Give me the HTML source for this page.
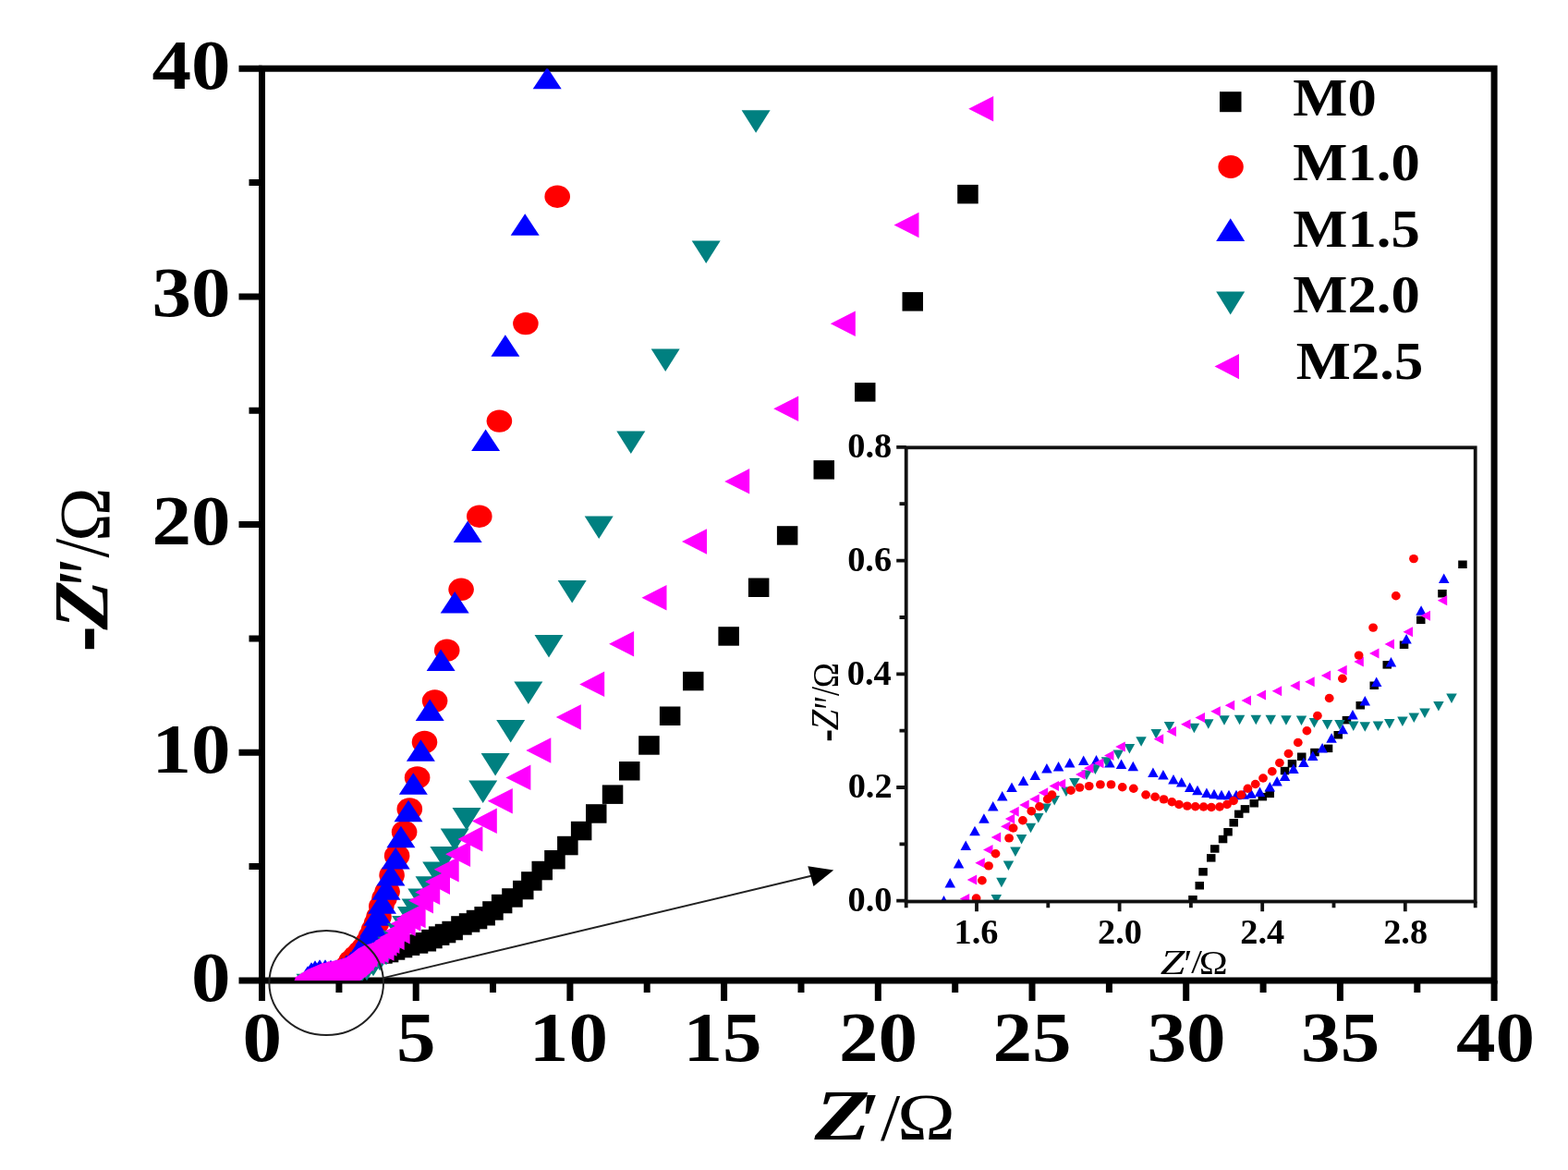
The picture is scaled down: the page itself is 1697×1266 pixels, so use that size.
<!DOCTYPE html>
<html><head><meta charset="utf-8"><title>Nyquist plot</title>
<style>html,body{margin:0;padding:0;background:#fff;overflow:hidden}svg{display:block}</style>
</head><body>
<svg width="1697" height="1266" viewBox="0 0 1697 1266">
<rect width="1697" height="1266" fill="#fff"/>
<rect x="283.5" y="74.19999999999993" width="1333.6" height="986.8" fill="none" stroke="#000" stroke-width="7"/>
<path d="M258.5 1061.0H283.5M269.5 937.6H283.5M258.5 814.3H283.5M269.5 691.0H283.5M258.5 567.6H283.5M269.5 444.2H283.5M258.5 320.9H283.5M269.5 197.5H283.5M258.5 74.2H283.5M283.5 1061.0V1083M366.9 1061.0V1074M450.2 1061.0V1083M533.5 1061.0V1074M616.9 1061.0V1083M700.2 1061.0V1074M783.6 1061.0V1083M867.0 1061.0V1074M950.3 1061.0V1083M1033.7 1061.0V1074M1117.0 1061.0V1083M1200.4 1061.0V1074M1283.7 1061.0V1083M1367.1 1061.0V1074M1450.4 1061.0V1083M1533.8 1061.0V1074M1617.1 1061.0V1083" stroke="#000" stroke-width="7" fill="none"/>
<clipPath id="pc"><rect x="283.5" y="74.19999999999993" width="1333.6" height="986.8"/></clipPath>
<g clip-path="url(#pc)">
<g fill="#000000"><rect x="345.8" y="1052.8" width="22.5" height="20.5"/><rect x="347.8" y="1048.8" width="22.5" height="20.5"/><rect x="352.8" y="1046.8" width="22.5" height="20.5"/><rect x="358.8" y="1043.8" width="22.5" height="20.5"/><rect x="365.8" y="1040.8" width="22.5" height="20.5"/><rect x="372.8" y="1034.8" width="22.5" height="20.5"/><rect x="379.8" y="1028.8" width="22.5" height="20.5"/><rect x="386.8" y="1021.8" width="22.5" height="20.5"/><rect x="394.8" y="1019.8" width="22.5" height="20.5"/><rect x="402.2" y="1022.2" width="22.5" height="20.5"/><rect x="408.8" y="1020.8" width="22.5" height="20.5"/><rect x="415.8" y="1018.2" width="22.5" height="20.5"/><rect x="423.8" y="1015.8" width="22.5" height="20.5"/><rect x="431.8" y="1013.4" width="22.5" height="20.5"/><rect x="440.8" y="1011.2" width="22.5" height="20.5"/><rect x="449.6" y="1009.0" width="22.5" height="20.5"/><rect x="456.2" y="1005.8" width="22.5" height="20.5"/><rect x="463.9" y="1002.4" width="22.5" height="20.5"/><rect x="470.8" y="999.8" width="22.5" height="20.5"/><rect x="478.4" y="996.8" width="22.5" height="20.5"/><rect x="488.2" y="991.2" width="22.5" height="20.5"/><rect x="496.8" y="988.2" width="22.5" height="20.5"/><rect x="504.8" y="984.8" width="22.5" height="20.5"/><rect x="513.4" y="981.0" width="22.5" height="20.5"/><rect x="522.2" y="975.2" width="22.5" height="20.5"/><rect x="531.9" y="967.8" width="22.5" height="20.5"/><rect x="543.2" y="961.2" width="22.5" height="20.5"/><rect x="555.0" y="952.8" width="22.5" height="20.5"/><rect x="564.1" y="943.2" width="22.5" height="20.5"/><rect x="575.5" y="931.8" width="22.5" height="20.5"/><rect x="589.2" y="920.0" width="22.5" height="20.5"/><rect x="603.1" y="904.8" width="22.5" height="20.5"/><rect x="617.9" y="888.8" width="22.5" height="20.5"/><rect x="634.0" y="870.2" width="22.5" height="20.5"/><rect x="651.8" y="849.4" width="22.5" height="20.5"/><rect x="670.0" y="824.0" width="22.5" height="20.5"/><rect x="691.2" y="796.2" width="22.5" height="20.5"/><rect x="713.9" y="764.5" width="22.5" height="20.5"/><rect x="739.0" y="726.8" width="22.5" height="20.5"/><rect x="777.4" y="678.2" width="22.5" height="20.5"/><rect x="809.9" y="625.5" width="22.5" height="20.5"/><rect x="840.9" y="569.2" width="22.5" height="20.5"/><rect x="880.5" y="498.1" width="22.5" height="20.5"/><rect x="925.0" y="414.1" width="22.5" height="20.5"/><rect x="976.5" y="316.1" width="22.5" height="20.5"/><rect x="1036.2" y="199.9" width="22.5" height="20.5"/></g>
<g fill="#ff0000"><ellipse cx="337.0" cy="1063.0" rx="13.8" ry="12.2"/><ellipse cx="342.0" cy="1061.0" rx="13.8" ry="12.2"/><ellipse cx="348.0" cy="1059.0" rx="13.8" ry="12.2"/><ellipse cx="354.0" cy="1058.0" rx="13.8" ry="12.2"/><ellipse cx="360.0" cy="1057.0" rx="13.8" ry="12.2"/><ellipse cx="366.0" cy="1055.0" rx="13.8" ry="12.2"/><ellipse cx="371.0" cy="1052.0" rx="13.8" ry="12.2"/><ellipse cx="376.0" cy="1046.0" rx="13.8" ry="12.2"/><ellipse cx="380.0" cy="1040.0" rx="13.8" ry="12.2"/><ellipse cx="385.0" cy="1035.0" rx="13.8" ry="12.2"/><ellipse cx="390.0" cy="1030.0" rx="13.8" ry="12.2"/><ellipse cx="394.5" cy="1025.0" rx="13.8" ry="12.2"/><ellipse cx="398.5" cy="1019.0" rx="13.8" ry="12.2"/><ellipse cx="401.5" cy="1013.0" rx="13.8" ry="12.2"/><ellipse cx="404.5" cy="1006.0" rx="13.8" ry="12.2"/><ellipse cx="407.5" cy="999.0" rx="13.8" ry="12.2"/><ellipse cx="410.0" cy="992.0" rx="13.8" ry="12.2"/><ellipse cx="412.8" cy="980.6" rx="13.8" ry="12.2"/><ellipse cx="416.0" cy="972.0" rx="13.8" ry="12.2"/><ellipse cx="419.1" cy="964.8" rx="13.8" ry="12.2"/><ellipse cx="424.1" cy="947.0" rx="13.8" ry="12.2"/><ellipse cx="429.6" cy="926.0" rx="13.8" ry="12.2"/><ellipse cx="437.6" cy="900.2" rx="13.8" ry="12.2"/><ellipse cx="443.3" cy="875.4" rx="13.8" ry="12.2"/><ellipse cx="451.6" cy="841.4" rx="13.8" ry="12.2"/><ellipse cx="459.5" cy="803.0" rx="13.8" ry="12.2"/><ellipse cx="470.6" cy="758.5" rx="13.8" ry="12.2"/><ellipse cx="483.7" cy="703.7" rx="13.8" ry="12.2"/><ellipse cx="499.1" cy="637.8" rx="13.8" ry="12.2"/><ellipse cx="518.8" cy="558.7" rx="13.8" ry="12.2"/><ellipse cx="540.4" cy="455.6" rx="13.8" ry="12.2"/><ellipse cx="568.9" cy="350.1" rx="13.8" ry="12.2"/><ellipse cx="603.2" cy="212.7" rx="13.8" ry="12.2"/></g>
<g fill="#0000ff"><path d="M333.0 1045.2L348.5 1068.8H317.5Z"/><path d="M337.0 1041.2L352.5 1064.8H321.5Z"/><path d="M341.0 1039.2L356.5 1062.8H325.5Z"/><path d="M346.0 1038.2L361.5 1061.8H330.5Z"/><path d="M352.0 1038.2L367.5 1061.8H336.5Z"/><path d="M358.0 1038.8L373.5 1062.2H342.5Z"/><path d="M364.0 1038.2L379.5 1061.8H348.5Z"/><path d="M370.0 1036.2L385.5 1059.8H354.5Z"/><path d="M375.0 1033.2L390.5 1056.8H359.5Z"/><path d="M380.0 1029.2L395.5 1052.8H364.5Z"/><path d="M384.0 1025.2L399.5 1048.8H368.5Z"/><path d="M388.0 1019.2L403.5 1042.8H372.5Z"/><path d="M392.0 1013.2L407.5 1036.8H376.5Z"/><path d="M396.0 1006.2L411.5 1029.8H380.5Z"/><path d="M400.0 999.2L415.5 1022.8H384.5Z"/><path d="M404.5 990.2L420.0 1013.8H389.0Z"/><path d="M409.0 978.2L424.5 1001.8H393.5Z"/><path d="M413.5 965.2L429.0 988.8H398.0Z"/><path d="M418.0 950.2L433.5 973.8H402.5Z"/><path d="M422.9 935.0L438.4 958.5H407.4Z"/><path d="M428.2 917.0L443.7 940.5H412.7Z"/><path d="M433.9 893.8L449.4 917.2H418.4Z"/><path d="M442.0 865.8L457.5 889.2H426.5Z"/><path d="M447.3 836.2L462.8 859.8H431.8Z"/><path d="M455.4 800.2L470.9 823.8H439.9Z"/><path d="M465.2 756.5L480.7 780.0H449.7Z"/><path d="M477.1 702.6L492.6 726.1H461.6Z"/><path d="M492.2 639.9L507.7 663.4H476.7Z"/><path d="M506.2 563.5L521.7 587.0H490.7Z"/><path d="M525.6 464.4L541.1 487.9H510.1Z"/><path d="M546.9 362.2L562.4 385.8H531.4Z"/><path d="M568.2 231.2L583.7 254.8H552.7Z"/><path d="M592.2 72.8L607.7 96.2H576.7Z"/></g>
<g fill="#008080"><path d="M336.0 1078.2L351.5 1053.8H320.5Z"/><path d="M341.0 1077.2L356.5 1052.8H325.5Z"/><path d="M348.0 1076.2L363.5 1051.8H332.5Z"/><path d="M355.0 1075.2L370.5 1050.8H339.5Z"/><path d="M362.0 1074.2L377.5 1049.8H346.5Z"/><path d="M369.0 1072.2L384.5 1047.8H353.5Z"/><path d="M376.0 1070.2L391.5 1045.8H360.5Z"/><path d="M383.0 1068.2L398.5 1043.8H367.5Z"/><path d="M390.0 1065.2L405.5 1040.8H374.5Z"/><path d="M397.0 1061.2L412.5 1036.8H381.5Z"/><path d="M404.0 1056.2L419.5 1031.8H388.5Z"/><path d="M411.0 1050.2L426.5 1025.8H395.5Z"/><path d="M418.0 1044.2L433.5 1019.8H402.5Z"/><path d="M424.0 1038.2L439.5 1013.8H408.5Z"/><path d="M430.0 1031.2L445.5 1006.8H414.5Z"/><path d="M434.5 1023.5L450.0 999.0H419.0Z"/><path d="M439.7 1015.5L455.2 991.0H424.2Z"/><path d="M445.5 1005.6L461.0 981.1H430.0Z"/><path d="M450.1 996.9L465.6 972.4H434.6Z"/><path d="M456.8 986.1L472.3 961.6H441.3Z"/><path d="M465.0 972.8L480.5 948.2H449.5Z"/><path d="M472.7 956.9L488.2 932.4H457.2Z"/><path d="M480.9 940.5L496.4 916.0H465.4Z"/><path d="M492.2 921.0L507.7 896.5H476.7Z"/><path d="M505.0 898.5L520.5 874.0H489.5Z"/><path d="M522.7 869.0L538.2 844.5H507.2Z"/><path d="M536.1 839.5L551.6 815.0H520.6Z"/><path d="M552.7 803.5L568.2 779.0H537.2Z"/><path d="M571.8 762.0L587.3 737.5H556.3Z"/><path d="M594.0 711.5L609.5 687.0H578.5Z"/><path d="M619.2 652.5L634.7 628.0H603.7Z"/><path d="M648.2 583.0L663.7 558.5H632.7Z"/><path d="M682.8 490.9L698.3 466.4H667.3Z"/><path d="M720.2 401.9L735.7 377.4H704.7Z"/><path d="M764.2 284.9L779.7 260.4H748.7Z"/><path d="M818.1 143.8L833.6 119.3H802.6Z"/></g>
<g fill="#ff00ff"><path d="M318.5 1058.0L345.5 1044.2V1071.8Z"/><path d="M323.5 1055.0L350.5 1041.2V1068.8Z"/><path d="M329.5 1053.5L356.5 1039.8V1067.2Z"/><path d="M335.5 1053.0L362.5 1039.2V1066.8Z"/><path d="M341.5 1052.0L368.5 1038.2V1065.8Z"/><path d="M347.5 1051.0L374.5 1037.2V1064.8Z"/><path d="M353.5 1050.5L380.5 1036.8V1064.2Z"/><path d="M359.5 1049.0L386.5 1035.2V1062.8Z"/><path d="M364.5 1047.0L391.5 1033.2V1060.8Z"/><path d="M369.5 1044.0L396.5 1030.2V1057.8Z"/><path d="M373.5 1040.0L400.5 1026.2V1053.8Z"/><path d="M377.5 1037.0L404.5 1023.2V1050.8Z"/><path d="M381.5 1033.0L408.5 1019.2V1046.8Z"/><path d="M385.5 1030.0L412.5 1016.2V1043.8Z"/><path d="M389.5 1030.0L416.5 1016.2V1043.8Z"/><path d="M393.5 1028.4L420.5 1014.7V1042.2Z"/><path d="M396.5 1024.0L423.5 1010.2V1037.8Z"/><path d="M399.5 1026.0L426.5 1012.2V1039.8Z"/><path d="M402.5 1021.0L429.5 1007.2V1034.8Z"/><path d="M405.4 1018.3L432.4 1004.5V1032.0Z"/><path d="M410.7 1014.2L437.7 1000.5V1028.0Z"/><path d="M416.6 1007.6L443.6 993.9V1021.4Z"/><path d="M422.6 999.4L449.6 985.6V1013.1Z"/><path d="M428.5 994.0L455.5 980.2V1007.8Z"/><path d="M433.6 990.5L460.6 976.8V1004.2Z"/><path d="M442.0 974.6L469.0 960.9V988.4Z"/><path d="M449.2 965.4L476.2 951.6V979.1Z"/><path d="M460.0 954.1L487.0 940.4V967.9Z"/><path d="M469.7 940.7L496.7 927.0V954.5Z"/><path d="M482.1 924.3L509.1 910.5V938.0Z"/><path d="M495.4 907.9L522.4 894.1V921.6Z"/><path d="M510.8 888.4L537.8 874.6V902.1Z"/><path d="M527.8 866.8L554.8 853.0V880.5Z"/><path d="M547.4 841.4L574.4 827.6V855.1Z"/><path d="M569.3 812.0L596.3 798.2V825.8Z"/><path d="M601.8 776.0L628.8 762.2V789.8Z"/><path d="M627.2 740.4L654.2 726.6V754.1Z"/><path d="M659.1 696.8L686.1 683.0V710.5Z"/><path d="M694.5 646.8L721.5 633.0V660.5Z"/><path d="M738.0 586.0L765.0 572.2V599.8Z"/><path d="M784.2 520.9L811.2 507.1V534.6Z"/><path d="M837.2 442.3L864.2 428.6V456.1Z"/><path d="M898.8 350.2L925.8 336.4V363.9Z"/><path d="M967.5 243.5L994.5 229.8V257.2Z"/><path d="M1048.2 117.7L1075.2 104.0V131.4Z"/></g>
<polygon fill="#ff00ff" points="318.4,1061 321,1056.7 332.7,1048.9 345.6,1043.7 355.4,1041.1 367,1038.5 374.8,1035.9 381.3,1031.4 387.8,1026.2 394.3,1023 406,1019.4 411.1,1037.2 408.5,1042.4 404,1048.9 397.5,1055.4 389.7,1061"/>
</g>
<text transform="translate(207.09 1082.50) scale(1.1109 1)" font-family="'Liberation Serif','Times New Roman',serif" font-size="76.62" font-weight="bold" fill="#000">0</text>
<text transform="translate(164.53 835.80) scale(1.1109 1)" font-family="'Liberation Serif','Times New Roman',serif" font-size="76.62" font-weight="bold" fill="#000">10</text>
<text transform="translate(164.53 589.10) scale(1.1109 1)" font-family="'Liberation Serif','Times New Roman',serif" font-size="76.62" font-weight="bold" fill="#000">20</text>
<text transform="translate(164.53 342.40) scale(1.1109 1)" font-family="'Liberation Serif','Times New Roman',serif" font-size="76.62" font-weight="bold" fill="#000">30</text>
<text transform="translate(164.53 95.70) scale(1.1109 1)" font-family="'Liberation Serif','Times New Roman',serif" font-size="76.62" font-weight="bold" fill="#000">40</text>
<text transform="translate(262.52 1148.00) scale(1.1109 1)" font-family="'Liberation Serif','Times New Roman',serif" font-size="76.62" font-weight="bold" fill="#000">0</text>
<text transform="translate(429.08 1148.00) scale(1.1109 1)" font-family="'Liberation Serif','Times New Roman',serif" font-size="76.62" font-weight="bold" fill="#000">5</text>
<text transform="translate(572.86 1148.00) scale(1.1109 1)" font-family="'Liberation Serif','Times New Roman',serif" font-size="76.62" font-weight="bold" fill="#000">10</text>
<text transform="translate(739.50 1148.00) scale(1.1109 1)" font-family="'Liberation Serif','Times New Roman',serif" font-size="76.62" font-weight="bold" fill="#000">15</text>
<text transform="translate(907.88 1148.00) scale(1.1109 1)" font-family="'Liberation Serif','Times New Roman',serif" font-size="76.62" font-weight="bold" fill="#000">20</text>
<text transform="translate(1074.52 1148.00) scale(1.1109 1)" font-family="'Liberation Serif','Times New Roman',serif" font-size="76.62" font-weight="bold" fill="#000">25</text>
<text transform="translate(1241.47 1148.00) scale(1.1109 1)" font-family="'Liberation Serif','Times New Roman',serif" font-size="76.62" font-weight="bold" fill="#000">30</text>
<text transform="translate(1408.10 1148.00) scale(1.1109 1)" font-family="'Liberation Serif','Times New Roman',serif" font-size="76.62" font-weight="bold" fill="#000">35</text>
<text transform="translate(1575.88 1148.00) scale(1.1109 1)" font-family="'Liberation Serif','Times New Roman',serif" font-size="76.62" font-weight="bold" fill="#000">40</text>
<text transform="translate(881.44 1233.10) scale(1.2549 1)" font-family="'Liberation Serif','Times New Roman',serif" font-size="78.35" font-weight="bold" font-style="italic" fill="#000">Z</text>
<text transform="translate(930.51 1241.16) scale(0.8774 1)" font-family="'Liberation Serif','Times New Roman',serif" font-size="85.16" font-weight="bold" font-style="italic" fill="#000">′</text>
<text transform="translate(953.10 1232.70) scale(1.0634 1)" font-family="'Liberation Serif','Times New Roman',serif" font-size="71.75" fill="#000">/</text>
<text transform="translate(971.11 1233.10) scale(1.1762 1)" font-family="'Liberation Serif','Times New Roman',serif" font-size="72.04" fill="#000">Ω</text>
<text transform="translate(124.97 705.36) rotate(-90) scale(0.7169 1)" font-family="'Liberation Serif','Times New Roman',serif" font-size="116.52" font-weight="bold" fill="#000">-</text>
<text transform="translate(117.30 681.39) rotate(-90) scale(1.0352 1)" font-family="'Liberation Serif','Times New Roman',serif" font-size="84.46" font-weight="bold" font-style="italic" fill="#000">Z</text>
<text transform="translate(129.47 636.60) rotate(-90) scale(0.6615 1)" font-family="'Liberation Serif','Times New Roman',serif" font-size="97.08" font-weight="bold" font-style="italic" fill="#000">″</text>
<text transform="translate(117.48 603.50) rotate(-90) scale(0.8853 1)" font-family="'Liberation Serif','Times New Roman',serif" font-size="84.16" fill="#000">/</text>
<text transform="translate(118.30 585.88) rotate(-90) scale(0.9956 1)" font-family="'Liberation Serif','Times New Roman',serif" font-size="79.14" fill="#000">Ω</text>
<g fill="#000000"><rect x="1320.0" y="99.2" width="23.5" height="22.0"/></g>
<g fill="#ff0000"><ellipse cx="1332.1" cy="180.5" rx="13.7" ry="12.4"/></g>
<g fill="#0000ff"><path d="M1331.7 236.2L1347.2 260.9H1316.2Z"/></g>
<g fill="#008080"><path d="M1331.7 340.6L1347.2 315.4H1316.2Z"/></g>
<g fill="#ff00ff"><path d="M1314.5 396.6L1341.0 382.9V410.3Z"/></g>
<text transform="translate(1399.33 124.50) scale(1.0792 1)" font-family="'Liberation Serif','Times New Roman',serif" font-size="58.02" font-weight="bold" fill="#000">M0</text>
<text transform="translate(1399.33 194.70) scale(1.0792 1)" font-family="'Liberation Serif','Times New Roman',serif" font-size="58.02" font-weight="bold" fill="#000">M1.0</text>
<text transform="translate(1399.33 266.50) scale(1.0792 1)" font-family="'Liberation Serif','Times New Roman',serif" font-size="58.02" font-weight="bold" fill="#000">M1.5</text>
<text transform="translate(1399.33 337.70) scale(1.0792 1)" font-family="'Liberation Serif','Times New Roman',serif" font-size="58.02" font-weight="bold" fill="#000">M2.0</text>
<text transform="translate(1402.83 410.20) scale(1.0792 1)" font-family="'Liberation Serif','Times New Roman',serif" font-size="58.02" font-weight="bold" fill="#000">M2.5</text>
<rect x="980.7" y="484.3" width="616.0" height="491.2" fill="#fff"/>
<clipPath id="ic"><rect x="980.7" y="484.3" width="616" height="491.2"/></clipPath>
<g clip-path="url(#ic)">
<g fill="#000000"><rect x="1286.2" y="969.0" width="9.5" height="8.5"/><rect x="1293.5" y="954.0" width="9.5" height="8.5"/><rect x="1297.3" y="939.1" width="9.5" height="8.5"/><rect x="1306.0" y="924.1" width="9.5" height="8.5"/><rect x="1310.0" y="914.2" width="9.5" height="8.5"/><rect x="1318.8" y="903.8" width="9.5" height="8.5"/><rect x="1324.3" y="896.0" width="9.5" height="8.5"/><rect x="1330.5" y="886.0" width="9.5" height="8.5"/><rect x="1336.0" y="876.6" width="9.5" height="8.5"/><rect x="1342.7" y="871.1" width="9.5" height="8.5"/><rect x="1352.5" y="865.0" width="9.5" height="8.5"/><rect x="1361.5" y="857.9" width="9.5" height="8.5"/><rect x="1369.5" y="854.6" width="9.5" height="8.5"/><rect x="1385.8" y="829.8" width="9.5" height="8.5"/><rect x="1393.7" y="822.0" width="9.5" height="8.5"/><rect x="1404.0" y="814.5" width="9.5" height="8.5"/><rect x="1418.2" y="809.8" width="9.5" height="8.5"/><rect x="1432.8" y="805.6" width="9.5" height="8.5"/><rect x="1443.5" y="791.0" width="9.5" height="8.5"/><rect x="1452.7" y="774.9" width="9.5" height="8.5"/><rect x="1467.5" y="759.0" width="9.5" height="8.5"/><rect x="1482.5" y="737.5" width="9.5" height="8.5"/><rect x="1496.5" y="715.1" width="9.5" height="8.5"/><rect x="1514.8" y="693.5" width="9.5" height="8.5"/><rect x="1533.0" y="666.6" width="9.5" height="8.5"/><rect x="1556.2" y="638.0" width="9.5" height="8.5"/><rect x="1578.2" y="606.5" width="9.5" height="8.5"/></g>
<g fill="#0000ff"><path d="M1021.5 969.1L1027.2 979.6H1015.8Z"/><path d="M1028.2 950.1L1034.0 960.6H1022.5Z"/><path d="M1037.6 928.9L1043.3 939.4H1031.8Z"/><path d="M1045.2 909.5L1051.0 920.0H1039.5Z"/><path d="M1055.0 893.8L1060.8 904.2H1049.2Z"/><path d="M1064.9 880.2L1070.7 890.8H1059.2Z"/><path d="M1074.7 867.0L1080.5 877.5H1069.0Z"/><path d="M1084.7 856.0L1090.5 866.5H1079.0Z"/><path d="M1095.0 846.5L1100.8 857.0H1089.2Z"/><path d="M1107.6 839.4L1113.3 849.9H1101.8Z"/><path d="M1120.3 833.5L1126.0 844.0H1114.5Z"/><path d="M1132.9 826.0L1138.7 836.5H1127.2Z"/><path d="M1145.6 824.0L1151.3 834.5H1139.8Z"/><path d="M1157.8 820.0L1163.5 830.5H1152.0Z"/><path d="M1172.7 817.6L1178.5 828.1H1167.0Z"/><path d="M1186.5 817.1L1192.2 827.6H1180.8Z"/><path d="M1200.9 819.9L1206.7 830.4H1195.2Z"/><path d="M1213.6 821.5L1219.3 832.0H1207.8Z"/><path d="M1226.3 823.8L1232.0 834.2H1220.5Z"/><path d="M1247.9 830.4L1253.7 840.9H1242.2Z"/><path d="M1258.9 833.1L1264.7 843.6H1253.2Z"/><path d="M1270.0 838.1L1275.8 848.6H1264.2Z"/><path d="M1278.8 840.9L1284.5 851.4H1273.0Z"/><path d="M1287.7 846.5L1293.5 857.0H1282.0Z"/><path d="M1296.0 849.8L1301.8 860.2H1290.2Z"/><path d="M1305.9 852.5L1311.7 863.0H1300.2Z"/><path d="M1314.0 853.8L1319.8 864.2H1308.2Z"/><path d="M1322.0 854.8L1327.8 865.2H1316.2Z"/><path d="M1330.0 854.8L1335.8 865.2H1324.2Z"/><path d="M1338.0 854.8L1343.8 865.2H1332.2Z"/><path d="M1346.0 854.2L1351.8 864.8H1340.2Z"/><path d="M1354.0 853.2L1359.8 863.8H1348.2Z"/><path d="M1363.5 851.5L1369.2 862.0H1357.8Z"/><path d="M1374.3 845.9L1380.0 856.4H1368.5Z"/><path d="M1382.1 840.1L1387.8 850.6H1376.3Z"/><path d="M1390.6 834.5L1396.3 845.0H1384.8Z"/><path d="M1399.9 826.6L1405.7 837.1H1394.2Z"/><path d="M1410.9 819.5L1416.7 830.0H1405.2Z"/><path d="M1420.8 812.5L1426.5 823.0H1415.0Z"/><path d="M1431.1 803.9L1436.8 814.4H1425.3Z"/><path d="M1441.1 793.2L1446.8 803.8H1435.3Z"/><path d="M1453.2 783.8L1459.0 794.2H1447.5Z"/><path d="M1464.0 768.0L1469.8 778.5H1458.2Z"/><path d="M1477.3 753.1L1483.0 763.6H1471.5Z"/><path d="M1489.7 732.4L1495.5 742.9H1484.0Z"/><path d="M1505.5 710.9L1511.2 721.4H1499.8Z"/><path d="M1522.1 686.0L1527.8 696.5H1516.3Z"/><path d="M1538.1 655.2L1543.8 665.8H1532.3Z"/><path d="M1562.7 620.5L1568.5 631.0H1557.0Z"/></g>
<g fill="#008080"><path d="M1078.3 978.5L1084.0 968.0H1072.5Z"/><path d="M1083.9 960.2L1089.7 949.8H1078.2Z"/><path d="M1091.4 942.1L1097.2 931.6H1085.7Z"/><path d="M1098.9 927.1L1104.7 916.6H1093.2Z"/><path d="M1105.6 913.6L1111.3 903.1H1099.8Z"/><path d="M1115.5 901.2L1121.2 890.8H1109.8Z"/><path d="M1123.8 890.5L1129.5 880.0H1118.0Z"/><path d="M1132.1 879.9L1137.8 869.4H1126.3Z"/><path d="M1141.2 871.6L1147.0 861.1H1135.5Z"/><path d="M1153.9 862.1L1159.7 851.6H1148.2Z"/><path d="M1162.9 852.6L1168.7 842.1H1157.2Z"/><path d="M1176.0 844.0L1181.8 833.5H1170.2Z"/><path d="M1185.4 838.1L1191.2 827.6H1179.7Z"/><path d="M1197.5 829.8L1203.2 819.2H1191.8Z"/><path d="M1210.3 822.0L1216.0 811.5H1204.5Z"/><path d="M1222.4 815.5L1228.2 805.0H1216.7Z"/><path d="M1235.1 807.8L1240.8 797.2H1229.3Z"/><path d="M1251.2 799.5L1257.0 789.0H1245.5Z"/><path d="M1265.5 791.6L1271.2 781.1H1259.8Z"/><path d="M1292.4 793.2L1298.2 782.8H1286.7Z"/><path d="M1307.8 788.8L1313.5 778.2H1302.0Z"/><path d="M1325.0 784.8L1330.8 774.2H1319.2Z"/><path d="M1341.6 784.2L1347.3 773.8H1335.8Z"/><path d="M1359.3 784.2L1365.0 773.8H1353.5Z"/><path d="M1375.3 784.2L1381.0 773.8H1369.5Z"/><path d="M1391.9 784.8L1397.7 774.2H1386.2Z"/><path d="M1408.5 785.1L1414.2 774.6H1402.8Z"/><path d="M1422.4 787.4L1428.2 776.9H1416.7Z"/><path d="M1436.6 789.4L1442.3 778.9H1430.8Z"/><path d="M1449.9 789.4L1455.7 778.9H1444.2Z"/><path d="M1464.8 791.0L1470.5 780.5H1459.0Z"/><path d="M1477.3 791.8L1483.0 781.2H1471.5Z"/><path d="M1491.4 791.0L1497.2 780.5H1485.7Z"/><path d="M1503.8 788.5L1509.5 778.0H1498.0Z"/><path d="M1517.9 786.0L1523.7 775.5H1512.2Z"/><path d="M1530.3 781.9L1536.0 771.4H1524.5Z"/><path d="M1542.0 776.9L1547.8 766.4H1536.2Z"/><path d="M1556.9 769.5L1562.7 759.0H1551.2Z"/><path d="M1571.0 761.1L1576.8 750.6H1565.2Z"/></g>
<g fill="#ff00ff"><path d="M1038.8 972.4L1049.2 966.9V977.9Z"/><path d="M1046.7 951.9L1057.2 946.4V957.4Z"/><path d="M1055.3 933.7L1065.8 928.2V939.2Z"/><path d="M1064.0 919.5L1074.5 914.0V925.0Z"/><path d="M1072.7 906.1L1083.2 900.6V911.6Z"/><path d="M1083.0 894.2L1093.5 888.7V899.7Z"/><path d="M1087.8 886.0L1098.2 880.5V891.5Z"/><path d="M1092.2 878.2L1102.7 872.7V883.7Z"/><path d="M1103.2 871.1L1113.7 865.6V876.6Z"/><path d="M1114.2 864.8L1124.8 859.3V870.3Z"/><path d="M1123.8 857.7L1134.2 852.2V863.2Z"/><path d="M1135.5 850.6L1146.0 845.1V856.1Z"/><path d="M1142.7 848.2L1153.2 842.7V853.7Z"/><path d="M1164.0 837.9L1174.5 832.4V843.4Z"/><path d="M1173.0 831.2L1183.5 825.7V836.7Z"/><path d="M1184.0 825.7L1194.5 820.2V831.2Z"/><path d="M1195.0 817.4L1205.5 811.9V822.9Z"/><path d="M1207.2 808.0L1217.8 802.5V813.5Z"/><path d="M1248.7 799.7L1259.2 794.2V805.2Z"/><path d="M1262.5 791.4L1273.0 785.9V796.9Z"/><path d="M1278.0 783.7L1288.5 778.2V789.2Z"/><path d="M1293.5 776.5L1304.0 771.0V782.0Z"/><path d="M1310.2 769.7L1320.8 764.2V775.2Z"/><path d="M1325.7 763.2L1336.2 757.7V768.7Z"/><path d="M1343.5 757.9L1354.0 752.4V763.4Z"/><path d="M1359.5 751.9L1370.0 746.4V757.4Z"/><path d="M1376.7 747.8L1387.2 742.3V753.3Z"/><path d="M1396.2 741.9L1406.7 736.4V747.4Z"/><path d="M1412.2 737.7L1422.7 732.2V743.2Z"/><path d="M1429.8 731.0L1440.2 725.5V736.5Z"/><path d="M1447.2 725.2L1457.7 719.7V730.7Z"/><path d="M1465.3 716.1L1475.8 710.6V721.6Z"/><path d="M1482.0 706.9L1492.5 701.4V712.4Z"/><path d="M1498.5 697.0L1509.0 691.5V702.5Z"/><path d="M1518.5 683.7L1529.0 678.2V689.2Z"/><path d="M1537.5 666.3L1548.0 660.8V671.8Z"/><path d="M1555.8 649.7L1566.2 644.2V655.2Z"/></g>
<g fill="#ff0000"><ellipse cx="1056.6" cy="972.0" rx="4.9" ry="4.7"/><ellipse cx="1062.9" cy="952.7" rx="4.9" ry="4.7"/><ellipse cx="1070.0" cy="936.9" rx="4.9" ry="4.7"/><ellipse cx="1077.5" cy="923.8" rx="4.9" ry="4.7"/><ellipse cx="1092.1" cy="906.9" rx="4.9" ry="4.7"/><ellipse cx="1096.6" cy="896.0" rx="4.9" ry="4.7"/><ellipse cx="1106.9" cy="887.7" rx="4.9" ry="4.7"/><ellipse cx="1116.3" cy="877.8" rx="4.9" ry="4.7"/><ellipse cx="1125.0" cy="872.7" rx="4.9" ry="4.7"/><ellipse cx="1133.7" cy="864.8" rx="4.9" ry="4.7"/><ellipse cx="1138.5" cy="860.0" rx="4.9" ry="4.7"/><ellipse cx="1159.0" cy="855.3" rx="4.9" ry="4.7"/><ellipse cx="1168.5" cy="852.1" rx="4.9" ry="4.7"/><ellipse cx="1178.7" cy="850.6" rx="4.9" ry="4.7"/><ellipse cx="1190.9" cy="848.9" rx="4.9" ry="4.7"/><ellipse cx="1202.5" cy="848.9" rx="4.9" ry="4.7"/><ellipse cx="1214.7" cy="851.7" rx="4.9" ry="4.7"/><ellipse cx="1226.8" cy="853.3" rx="4.9" ry="4.7"/><ellipse cx="1240.1" cy="860.0" rx="4.9" ry="4.7"/><ellipse cx="1250.1" cy="862.2" rx="4.9" ry="4.7"/><ellipse cx="1259.5" cy="864.9" rx="4.9" ry="4.7"/><ellipse cx="1268.3" cy="867.7" rx="4.9" ry="4.7"/><ellipse cx="1276.0" cy="870.5" rx="4.9" ry="4.7"/><ellipse cx="1284.9" cy="872.1" rx="4.9" ry="4.7"/><ellipse cx="1293.7" cy="872.7" rx="4.9" ry="4.7"/><ellipse cx="1302.6" cy="873.0" rx="4.9" ry="4.7"/><ellipse cx="1311.0" cy="873.5" rx="4.9" ry="4.7"/><ellipse cx="1320.0" cy="873.0" rx="4.9" ry="4.7"/><ellipse cx="1328.0" cy="870.5" rx="4.9" ry="4.7"/><ellipse cx="1335.0" cy="866.5" rx="4.9" ry="4.7"/><ellipse cx="1343.3" cy="860.0" rx="4.9" ry="4.7"/><ellipse cx="1350.4" cy="853.3" rx="4.9" ry="4.7"/><ellipse cx="1358.7" cy="848.5" rx="4.9" ry="4.7"/><ellipse cx="1367.0" cy="842.0" rx="4.9" ry="4.7"/><ellipse cx="1376.8" cy="834.7" rx="4.9" ry="4.7"/><ellipse cx="1384.9" cy="825.5" rx="4.9" ry="4.7"/><ellipse cx="1394.5" cy="815.5" rx="4.9" ry="4.7"/><ellipse cx="1404.8" cy="803.5" rx="4.9" ry="4.7"/><ellipse cx="1414.4" cy="790.7" rx="4.9" ry="4.7"/><ellipse cx="1425.9" cy="774.5" rx="4.9" ry="4.7"/><ellipse cx="1438.7" cy="755.5" rx="4.9" ry="4.7"/><ellipse cx="1452.9" cy="734.3" rx="4.9" ry="4.7"/><ellipse cx="1470.6" cy="709.1" rx="4.9" ry="4.7"/><ellipse cx="1486.1" cy="679.1" rx="4.9" ry="4.7"/><ellipse cx="1510.8" cy="644.7" rx="4.9" ry="4.7"/><ellipse cx="1530.0" cy="604.6" rx="4.9" ry="4.7"/></g>
</g>
<rect x="980.7" y="484.3" width="616.0" height="491.2" fill="none" stroke="#111" stroke-width="3.8"/>
<path d="M970.2 974.7H980.7M973.5 913.4H980.7M970.2 852.0H980.7M973.5 790.6H980.7M970.2 729.3H980.7M973.5 668.0H980.7M970.2 606.6H980.7M973.5 545.2H980.7M970.2 483.9H980.7M980.7 975.5V982.2M1057.0 975.5V986.2M1134.3 975.5V982.2M1211.6 975.5V986.2M1288.9 975.5V982.2M1366.2 975.5V986.2M1443.5 975.5V982.2M1520.8 975.5V986.2M1596.7 975.5V982.2" stroke="#111" stroke-width="3.8" fill="none"/>
<text transform="translate(917.47 985.97) scale(1.0222 1)" font-family="'Liberation Serif','Times New Roman',serif" font-size="37.56" font-weight="bold" fill="#000">0.0</text>
<text transform="translate(917.66 863.27) scale(1.0222 1)" font-family="'Liberation Serif','Times New Roman',serif" font-size="37.56" font-weight="bold" fill="#000">0.2</text>
<text transform="translate(916.72 740.57) scale(1.0222 1)" font-family="'Liberation Serif','Times New Roman',serif" font-size="37.56" font-weight="bold" fill="#000">0.4</text>
<text transform="translate(917.14 617.87) scale(1.0222 1)" font-family="'Liberation Serif','Times New Roman',serif" font-size="37.56" font-weight="bold" fill="#000">0.6</text>
<text transform="translate(917.29 495.17) scale(1.0222 1)" font-family="'Liberation Serif','Times New Roman',serif" font-size="37.56" font-weight="bold" fill="#000">0.8</text>
<text transform="translate(1032.53 1020.50) scale(1.0222 1)" font-family="'Liberation Serif','Times New Roman',serif" font-size="37.56" font-weight="bold" fill="#000">1.6</text>
<text transform="translate(1188.03 1020.50) scale(1.0222 1)" font-family="'Liberation Serif','Times New Roman',serif" font-size="37.56" font-weight="bold" fill="#000">2.0</text>
<text transform="translate(1342.26 1020.50) scale(1.0222 1)" font-family="'Liberation Serif','Times New Roman',serif" font-size="37.56" font-weight="bold" fill="#000">2.4</text>
<text transform="translate(1497.14 1020.50) scale(1.0222 1)" font-family="'Liberation Serif','Times New Roman',serif" font-size="37.56" font-weight="bold" fill="#000">2.8</text>
<text transform="translate(1255.81 1053.70) scale(1.2877 1)" font-family="'Liberation Serif','Times New Roman',serif" font-size="37.26" font-style="italic" fill="#000">Z</text>
<text transform="translate(1278.97 1057.12) scale(0.9577 1)" font-family="'Liberation Serif','Times New Roman',serif" font-size="41.73" font-style="italic" fill="#000">′</text>
<text transform="translate(1289.20 1053.35) scale(1.1787 1)" font-family="'Liberation Serif','Times New Roman',serif" font-size="35.73" fill="#000">/</text>
<text transform="translate(1297.65 1053.70) scale(1.1521 1)" font-family="'Liberation Serif','Times New Roman',serif" font-size="36.10" fill="#000">Ω</text>
<text transform="translate(912.44 802.63) rotate(-90) scale(0.6838 1)" font-family="'Liberation Serif','Times New Roman',serif" font-size="60.24" fill="#000">-</text>
<text transform="translate(907.40 790.29) rotate(-90) scale(0.9468 1)" font-family="'Liberation Serif','Times New Roman',serif" font-size="42.46" font-style="italic" fill="#000">Z</text>
<text transform="translate(914.96 770.02) rotate(-90) scale(0.7178 1)" font-family="'Liberation Serif','Times New Roman',serif" font-size="51.09" font-style="italic" fill="#000">″</text>
<text transform="translate(908.27 753.10) rotate(-90) scale(0.8188 1)" font-family="'Liberation Serif','Times New Roman',serif" font-size="44.40" fill="#000">/</text>
<text transform="translate(907.40 744.29) rotate(-90) scale(0.8905 1)" font-family="'Liberation Serif','Times New Roman',serif" font-size="41.08" fill="#000">Ω</text>
<ellipse cx="353.2" cy="1063.5" rx="61.8" ry="56.5" fill="none" stroke="#222" stroke-width="2"/>
<line x1="415" y1="1058.1" x2="878" y2="947.8" stroke="#222" stroke-width="2"/>
<path d="M902.2 941.5L874.3 937.3L880.5 959Z" fill="#000"/>
</svg>
</body></html>
